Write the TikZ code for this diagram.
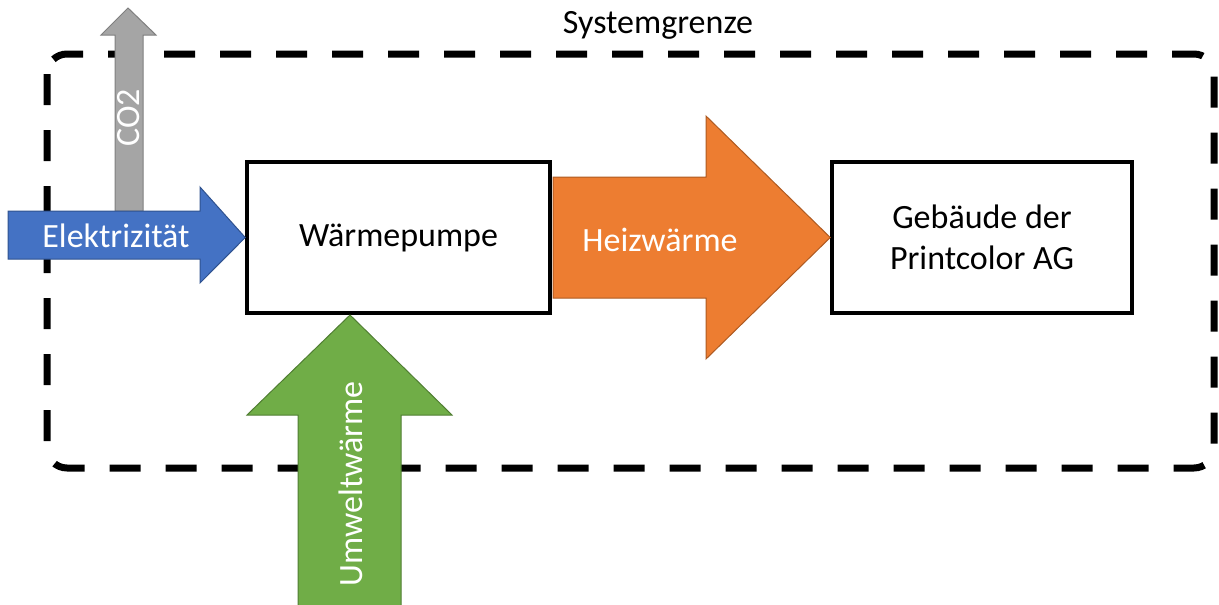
\documentclass[tikz,border=0pt]{standalone}
\usepackage{fontspec}
\setmainfont{Carlito}
\begin{document}
\begin{tikzpicture}[x=1pt,y=-1pt,
  lbl/.style={font=\fontsize{34}{41}\selectfont, inner sep=0pt},
  wlbl/.style={lbl, text=white},
  boxnode/.style={draw=black, line width=3.5pt, fill=white, minimum width=303pt, minimum height=151pt, inner sep=0pt, align=center, font=\fontsize{34}{41}\selectfont},
  bluearrow/.style={fill={rgb,255:red,68;green,114;blue,196}, draw={rgb,255:red,47;green,82;blue,143}, line width=1pt},
  grayarrow/.style={fill={rgb,255:red,165;green,165;blue,165}, draw={rgb,255:red,127;green,127;blue,127}, line width=1pt},
  orangearrow/.style={fill={rgb,255:red,237;green,125;blue,49}, draw={rgb,255:red,174;green,90;blue,33}, line width=1pt},
  greenarrow/.style={fill={rgb,255:red,112;green,173;blue,71}, draw={rgb,255:red,80;green,126;blue,50}, line width=1pt},
  boundary/.style={draw=black, line width=7pt, dash pattern=on 31pt off 25pt, rounded corners=20pt}
]
\useasboundingbox (0,0) rectangle (1219,605);
% system boundary
\draw[boundary] (47,54) rectangle (1214,468);
\node[lbl] (sg) at (658,25) {Systemgrenze};
% boxes
\node[boxnode] (wp) at (398.5,237.5) {Wärmepumpe};
\node[boxnode, minimum width=300pt] (geb) at (982,237.5) {Gebäude der\\Printcolor AG};
\coordinate (uwtip) at (350,315);
% CO2 arrow
\draw[grayarrow] (115,211) -- (115,35) -- (101,35) -- (128,8) -- (156,35) -- (143,35) -- (143,211) -- cycle;
\node[wlbl, rotate=90] (co2) at (129,118) {CO2};
% Elektrizitaet arrow
\draw[bluearrow] (8,211) -- (200,211) -- (200,187) -- (wp.west) -- (200,283) -- (200,259) -- (8,259) -- cycle;
\node[wlbl] (el) at (116,236) {Elektrizität};
% Heizwaerme arrow
\draw[orangearrow] (553,177) -- (706,177) -- (706,116) -- (geb.west) -- (706,359) -- (706,298) -- (553,298) -- cycle;
\node[wlbl] (hw) at (660,240) {Heizwärme};
% Umweltwaerme arrow
\draw[greenarrow] (298,606) -- (298,415) -- (247,415) -- (uwtip) -- (452,415) -- (401,415) -- (401,606) -- cycle;
\node[wlbl, rotate=90] (uw) at (351,484) {Umweltwärme};
\end{tikzpicture}
\end{document}
